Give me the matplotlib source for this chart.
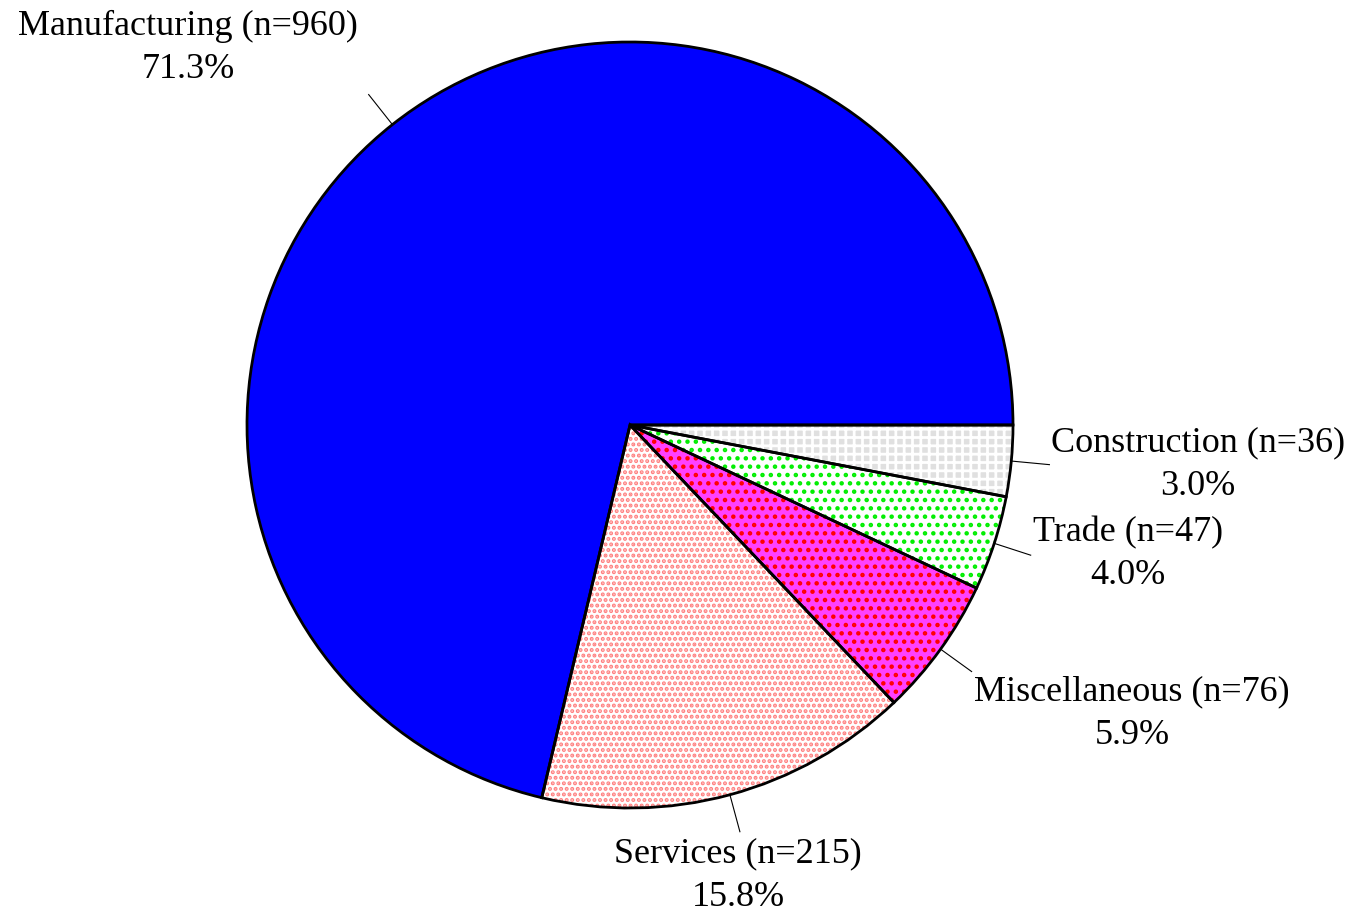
import numpy as np
import matplotlib.pyplot as plt

names = ['Manufacturing', 'Services', 'Miscellaneous', 'Trade', 'Construction']
counts = [960, 215, 76, 47, 36]
shares = [71.3, 15.8, 5.9, 4.0, 3.0]

faces = ['#0000ff', '#ffffff', '#ff40ff', '#ffffff', '#e0e0e0']
hatch_cols = ['#0000ff', '#ff8080', '#ff0000', '#00ee00', '#ffffff']
hatches = [None, '...', '..', '..', '++']

# label centres in pixel coords (x, y from top)
label_pos = [(188, 48), (738, 876), (1132, 714), (1128, 554), (1198, 465)]

plt.rcParams['font.family'] = ['Liberation Serif', 'DejaVu Serif']
plt.rcParams['hatch.linewidth'] = 2.0

W, H = 1357, 915
fig = plt.figure(figsize=(W / 100, H / 100), dpi=100)
ax = fig.add_axes([0, 0, 1, 1])

cx, cy, r = 630, H - 425, 383

wedges, _ = ax.pie(shares, center=(cx, cy), radius=r, startangle=0,
                   counterclock=True, colors=faces, frame=True,
                   wedgeprops=dict(linewidth=0))
for w, hc, h in zip(wedges, hatch_cols, hatches):
    if h:
        w.set_hatch(h)
        w.set_edgecolor(hc)
# outlines
ax.pie(shares, center=(cx, cy), radius=r, startangle=0,
       counterclock=True, frame=True,
       wedgeprops=dict(facecolor='none', edgecolor='black', linewidth=2))
ax.set_xlim(0, W)
ax.set_ylim(0, H)
ax.set_aspect('equal')
ax.axis('off')

for w, nm, n, s, (lx, ly) in zip(wedges, names, counts, shares, label_pos):
    a = np.deg2rad((w.theta1 + w.theta2) / 2)
    ax.plot([cx + r * np.cos(a), cx + 1.1 * r * np.cos(a)],
            [cy + r * np.sin(a), cy + 1.1 * r * np.sin(a)], color='black', lw=0.8)
    ax.text(lx, H - ly, f'{nm} (n={n})\n{s:.1f}%', ha='center', va='center',
            fontsize=26, linespacing=1.42)

fig.savefig('out.png', dpi=100)
